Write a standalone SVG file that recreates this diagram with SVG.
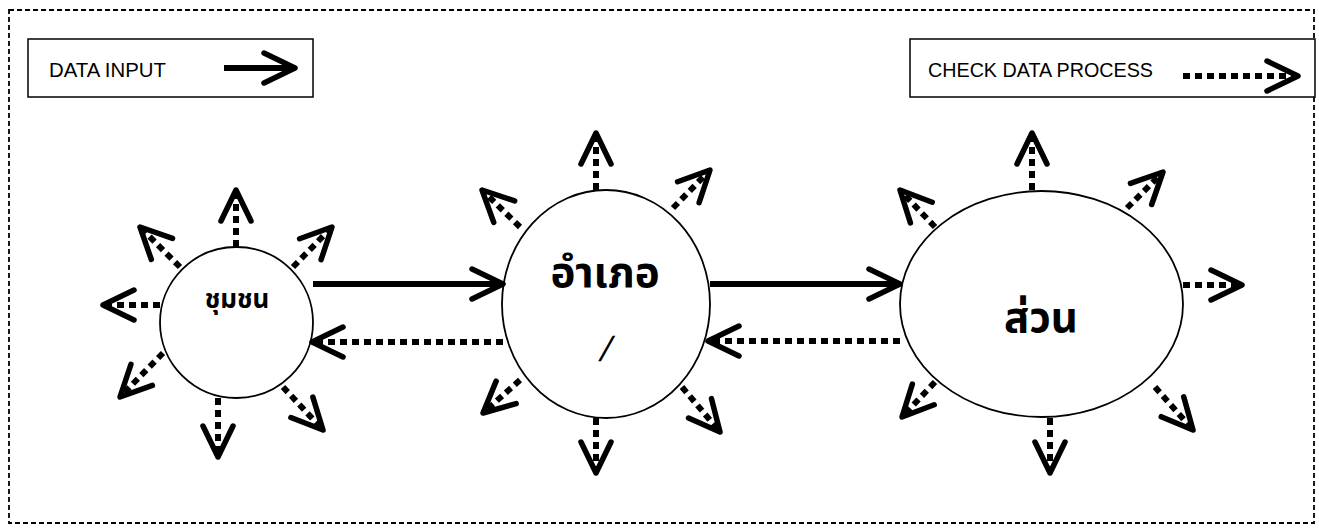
<svg xmlns="http://www.w3.org/2000/svg" width="1319" height="529" viewBox="0 0 1319 529">
<style>
.frame{fill:none;stroke:#000;stroke-width:1.8;stroke-dasharray:5 3}
.box{fill:#fff;stroke:#000;stroke-width:1.5}
.node{fill:#fff;stroke:#000;stroke-width:1.8}
.lbl{font-family:"Liberation Sans",Arial,sans-serif;font-size:20px;fill:#000}
.th{font-family:"Noto Sans Thai","Noto Sans","DejaVu Sans",sans-serif;font-weight:bold;fill:#000;text-anchor:middle}
.solid{fill:none;stroke:#000;stroke-width:6;marker-end:url(#ah)}
.dot{fill:none;stroke:#000;stroke-width:6;stroke-dasharray:7 5;marker-end:url(#ah)}
</style>
<defs>
<marker id="ah" markerUnits="userSpaceOnUse" viewBox="-40 -20 44 40" markerWidth="44" markerHeight="40" refX="0" refY="0" orient="auto" overflow="visible">
<path d="M-31,-15 L0,0 L-31,15" fill="none" stroke="#000" stroke-width="5.5" stroke-linecap="round" stroke-linejoin="round" stroke-dasharray="none"/>
</marker>
</defs>
<rect x="0" y="0" width="1319" height="529" fill="#fff"/>
<rect class="frame" x="9" y="10" width="1305" height="513"/>

<g id="legend-input">
<rect class="box" x="28" y="39" width="285" height="58"/>
<text class="lbl" x="49" y="77" textLength="117" lengthAdjust="spacingAndGlyphs">DATA INPUT</text>
<path class="solid" d="M224,68 L295,68"/>
</g>
<g id="legend-check">
<rect class="box" x="910" y="39" width="405" height="58"/>
<text class="lbl" x="928" y="77" textLength="225" lengthAdjust="spacingAndGlyphs">CHECK DATA PROCESS</text>
<path class="dot" d="M1183,76 L1298,76"/>
</g>

<g id="node-community">
<ellipse class="node" cx="236.5" cy="322.5" rx="76.5" ry="75.5"/>
<text class="th" x="237" y="308" font-size="26">ชุมชน</text>
</g>
<g id="node-district">
<ellipse class="node" cx="606" cy="304" rx="104" ry="114"/>
<text class="th" x="605" y="287" font-size="42">อำเภอ</text>
<text transform="translate(603,361) skewX(-16)" x="0" y="0" font-family="'Liberation Sans',Arial,sans-serif" font-size="35" text-anchor="middle">/</text>
</g>
<g id="node-section">
<ellipse class="node" cx="1041.5" cy="304" rx="141.5" ry="113"/>
<text class="th" x="1041" y="332" font-size="42">ส่วน</text>
</g>

<g id="connectors">
<path class="solid" d="M313,284 L503,284"/>
<path class="dot" d="M503,342 L312,342"/>
<path class="solid" d="M710,284 L900,284"/>
<path class="dot" d="M900,341 L708,341"/>

<!-- community radial -->
<path class="dot" d="M236,247 L236,190"/>
<path class="dot" d="M293,267 L332,227"/>
<path class="dot" d="M180,267 L140,227"/>
<path class="dot" d="M160,305 L103,305"/>
<path class="dot" d="M163,353 L120,397"/>
<path class="dot" d="M218,398 L218,457"/>
<path class="dot" d="M283,387 L323,430"/>

<!-- district radial -->
<path class="dot" d="M596,190 L596,133"/>
<path class="dot" d="M673,208 L710,170"/>
<path class="dot" d="M520,227 L482,190"/>
<path class="dot" d="M520,380 L483,413"/>
<path class="dot" d="M596,418 L596,473"/>
<path class="dot" d="M682,387 L720,432"/>

<!-- section radial -->
<path class="dot" d="M1032,190 L1032,133"/>
<path class="dot" d="M1127,208 L1163,172"/>
<path class="dot" d="M935,227 L900,190"/>
<path class="dot" d="M935,382 L902,417"/>
<path class="dot" d="M1050,418 L1050,473"/>
<path class="dot" d="M1183,285 L1242,285"/>
<path class="dot" d="M1155,387 L1193,430"/>
</g>
</svg>
